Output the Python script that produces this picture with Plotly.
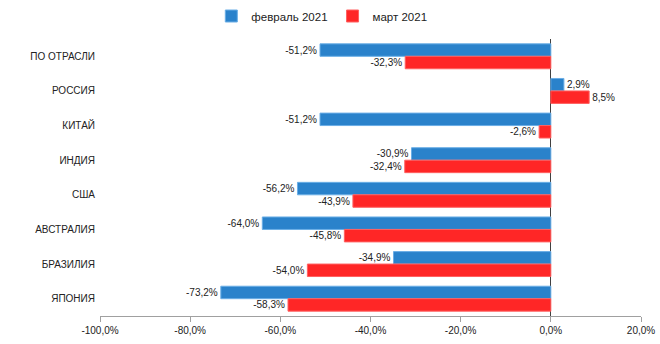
import plotly.graph_objects as go

categories = ["ПО ОТРАСЛИ", "РОССИЯ", "КИТАЙ", "ИНДИЯ", "США", "АВСТРАЛИЯ", "БРАЗИЛИЯ", "ЯПОНИЯ"]
feb_2021 = [-51.2, 2.9, -51.2, -30.9, -56.2, -64.0, -34.9, -73.2]
mar_2021 = [-32.3, 8.5, -2.6, -32.4, -43.9, -45.8, -54.0, -58.3]
series_names = ["февраль 2021", "март 2021"]
x_ticks = [-100, -80, -60, -40, -20, 0, 20]


def pct(v):
    return f"{v:.1f}%".replace(".", ",")


FONT = "Liberation Sans, Arial, sans-serif"

fig = go.Figure()
for vals, name, col, lcol in [
    (feb_2021, series_names[0], "#2a82cb", "#6aaee6"),
    (mar_2021, series_names[1], "#ff2626", "#ff6060"),
]:
    fig.add_trace(go.Bar(
        y=categories, x=vals, orientation="h", name=name,
        marker=dict(color=col, line=dict(color=lcol, width=1)),
        text=[pct(v) for v in vals], texttemplate="%{text}", textposition="outside",
        textfont=dict(size=10, color="#222"), cliponaxis=False,
    ))

fig.update_layout(
    width=660, height=344,
    margin=dict(l=100, r=19, t=39, b=28, autoexpand=False),
    paper_bgcolor="white", plot_bgcolor="white",
    barmode="group", bargap=0.28, bargroupgap=0,
    font=dict(family=FONT, size=10, color="#222"),
    showlegend=True,
    legend=dict(orientation="h", x=0.41, xanchor="center", y=1.083, yanchor="middle",
                font=dict(size=11.5), itemwidth=30, traceorder="normal"),
)
fig.update_xaxes(
    range=[-100, 20], tickvals=x_ticks, ticktext=[pct(v) for v in x_ticks],
    showgrid=False, zeroline=True, zerolinecolor="#404040", zerolinewidth=1,
    showline=True, linecolor="#a0a0a0", ticks="outside", ticklen=5, tickcolor="#a0a0a0",
    tickfont=dict(size=10), automargin=False,
)
fig.update_yaxes(
    range=[7.5, -0.5], showgrid=False, showline=False, ticks="",
    tickfont=dict(size=10), ticklabelstandoff=4, automargin=False,
)

fig.write_html("out.html")
